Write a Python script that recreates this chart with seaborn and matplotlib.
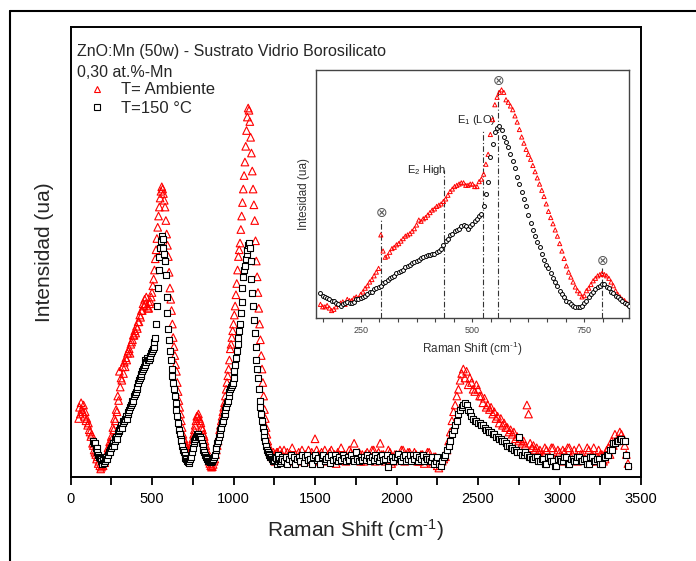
import numpy as np
import matplotlib
matplotlib.use("Agg")
import matplotlib.pyplot as plt
from matplotlib.lines import Line2D
from matplotlib.ticker import MultipleLocator, AutoMinorLocator, NullLocator
import seaborn as sns

# ------------------------
# datos (intensidad en unidades arbitrarias 0-100)
# rejilla del espectrometro: paso 5 cm-1 hasta 1300, paso 10 cm-1 despues
# ------------------------
shift_amb = list(range(50, 1300, 5)) + list(range(1300, 3430, 10))
int_amb = [
    13, 15.5, 14, 16.5, 15, 14.5, 16, 13.5, 14.5, 12.5,
    13, 11.5, 12, 10.5, 10, 9, 9.5, 7.5, 7, 6,
    5.5, 5, 4, 4.5, 3, 3.5, 2.5, 1.8, 2.2, 2.8,
    2.5, 3.8, 3.2, 4.5, 5.2, 5, 6.5, 6, 7.8, 7.2,
    9, 8.5, 11, 10.5, 13, 12.5, 15, 14.5, 18, 17,
    23.5, 20, 22, 21.5, 24.5, 23, 25.5, 24.5, 26.5, 26,
    27.5, 28, 28.5, 27.5, 29.5, 30, 30.5, 31.5, 31.5, 32.5,
    32, 33.5, 33, 34.5, 34.5, 36, 35.5, 37, 37, 38.5,
    38, 39.5, 38.5, 40, 38, 37.5, 37.5, 38.5, 39, 40,
    41, 42.5, 44, 46, 48.5, 50.5, 53, 55.5, 58, 60,
    62, 63.5, 64.5, 64, 63, 61.5, 60, 57, 54, 51.5,
    49, 45.5, 42, 39.5, 37, 34, 31, 29, 27, 25,
    23.5, 21, 19, 17, 15.5, 14, 12.5, 11, 9.5, 8.5,
    8, 7, 6.5, 6, 6, 5.5, 5.5, 6, 7, 7.5,
    8.5, 9.5, 10.5, 11.5, 12.5, 13.5, 13.5, 14, 13, 12.5,
    12, 11, 10.5, 9.5, 9, 8, 7, 6, 5, 4.5,
    3.5, 3, 2.5, 2.2, 2.3, 2.8, 3.5, 4, 5, 6,
    7, 8, 9, 10.5, 11.5, 12.5, 13.5, 14.5, 15.5, 16.5,
    18, 19.5, 21, 22.5, 24, 26, 28.5, 29.5, 31, 32.5,
    34, 36, 38, 40.5, 43, 46, 49, 50.5, 52, 55,
    58, 61, 64, 67, 70, 73.5, 77, 80, 82, 81.5,
    79, 75.5, 72, 68, 64, 60.5, 57, 52.5, 48, 44.5,
    41, 37.5, 34, 30.5, 27, 24, 21, 18, 15, 13,
    11, 9.5, 8, 7, 6, 5.5, 5, 4.5, 4.5, 5.5,
    5, 3.5, 4, 5.5, 5.5, 3.5, 4, 6, 5, 4,
    # 1300 - 3420
    4.5, 6, 4, 5.5, 3.5, 5, 6.5, 4, 5, 3.5,
    5.5, 4.5, 6, 4, 5, 3.5, 6, 4.5, 5.5, 4,
    8.5, 6, 5, 3.5, 5.5, 4, 6, 4.5, 3.5, 5.5,
    6, 4, 5, 3, 5.5, 4.5, 6.5, 4, 5, 3.5,
    4.5, 6, 5.5, 4, 7.5, 5, 4, 5.5, 3.5, 5,
    3.5, 5, 5.5, 4, 4.5, 6, 6, 3.5, 4, 5.5,
    7.5, 5, 5, 3.5, 4, 6, 5.5, 3, 3.5, 5,
    5, 4, 4.5, 6, 6, 3.5, 4, 5.5, 5.5, 4,
    4, 5.5, 5, 3.5, 3.5, 5, 5, 3, 4, 5.5,
    5.5, 3.5, 3, 4.5, 4.5, 2.5, 2, 3.5, 3.5, 4,
    4.5, 6, 8, 10, 12.5, 14.5, 16, 18, 19.5, 21.5,
    23, 24, 22, 23.5, 20.5, 22, 21, 19.5, 19, 20.5,
    19.5, 18, 18, 16.5, 17.5, 15.5, 16, 15, 15.5, 14,
    14.5, 13, 13.5, 12, 13, 11.5, 12, 11, 11, 10,
    10.5, 9.5, 10, 8.5, 9, 8, 8.5, 7.5, 8, 7,
    16, 14, 7.5, 6.5, 7, 6, 6.5, 5.5, 6, 4.5,
    5, 6.5, 6, 4, 4.5, 6.5, 6.5, 4, 4, 6,
    5.5, 3.5, 6, 5.5, 4, 6.5, 6.5, 4.5, 5, 6,
    4.5, 3.5, 6.5, 5, 5, 4, 4, 6.5, 6, 3.5,
    5, 6.5, 3.5, 4.5, 6, 5, 5, 3.5, 4, 6,
    6.5, 5, 8, 7, 9.5, 8, 8.5, 10, 9.5, 8.5,
    7, 5, 3]

shift_150 = list(range(140, 1300, 5)) + list(range(1300, 3430, 10))
int_150 = [
    8, 7.5, 7.5, 6.5, 6.5, 5.5, 5, 4.5, 4.2, 4, 3.5, 3,
    3.8, 3.2, 3.5, 4, 4.5, 4, 5, 5.5, 6, 5.5,
    6.5, 7, 7.5, 7, 8, 8.5, 9, 8.5, 9.8, 10.2,
    10.5, 11, 11.5, 11, 12, 12.5, 12.5, 13, 13.5, 13,
    14, 14.5, 15, 15.5, 16, 16.5, 17, 17, 18, 18.5,
    19, 19.5, 20, 21, 21.5, 22, 22.5, 23, 23.5, 24,
    24.5, 25, 26, 25.5, 26.5, 26, 26, 26.5, 27, 27.5,
    28, 28.5, 29, 30, 31, 34, 38, 42, 46, 49,
    51, 52.5, 53.5, 53, 51, 49.5, 48, 45, 40, 36.5,
    33, 30.5, 28, 26, 24, 22.5, 21, 19.5, 18, 16.5,
    15, 13.5, 12, 10.5, 9.5, 8.5, 8, 7, 6, 5.5,
    4.8, 4.2, 4, 3.6, 3.4, 3.2, 3.5, 4, 4.5, 5.5,
    6.5, 7.5, 8, 8.5, 9, 9.5, 9.5, 9.2, 9, 8.8,
    8.5, 7.5, 7, 6, 5.5, 5, 4.5, 4.2, 4, 3.6,
    3.5, 3.4, 3.3, 3.5, 3.8, 4, 4.5, 5, 6, 6.5,
    7.5, 8, 9, 9.5, 10.5, 11, 12, 12.5, 13.5, 14,
    15, 15.5, 16.5, 17, 18, 19, 19.5, 20, 20.5, 21,
    22, 23.5, 25, 26.5, 28, 29.5, 31, 32.5, 34, 36.5,
    39, 42, 44.5, 46, 47, 48.5, 49.5, 50.5, 51.5, 52,
    51, 48, 44, 41, 38, 35, 32, 29, 26, 24,
    22, 19.5, 17, 15.5, 14, 12.5, 11, 10, 9, 8,
    7, 6, 5.5, 5.2, 5, 4.5, 4.5, 4, 4, 3.5,
    3.8, 4.5, 4.2, 3, 3.5, 4.8, 4, 3.2, 3.6, 4.5,
    # 1300 - 3420
    4, 3.5, 4.5, 3, 4, 5, 3.5, 4.5, 3, 4,
    4.5, 3.5, 4.8, 3.2, 4.5, 5, 3.8, 4, 3, 4.5,
    5, 3.8, 4.2, 3, 4.5, 5, 3.5, 4, 4.5, 3.2,
    4.8, 3.8, 5, 4, 3.5, 4.5, 3.8, 5, 4.2, 3.5,
    4.5, 3.8, 5, 4, 3.5, 5.5, 4, 3.5, 4.5, 3.8,
    4.5, 3.8, 5, 4.2, 3.5, 4.5, 3.8, 5, 4.2, 3.5,
    4.5, 5, 3.8, 4, 5, 2.2, 4, 4.5, 3.5, 4.5,
    4.5, 5.2, 4, 3.5, 4.5, 5, 3.5, 4, 5, 3.5,
    5, 4, 4.8, 3.5, 4.5, 4, 5, 3.5, 4.5, 4,
    4, 3.5, 4.5, 3, 3.5, 4.5, 3, 2.5, 3.5, 4.5,
    5, 6, 7, 8, 9.5, 10.5, 11.5, 12.5, 14, 15,
    15.5, 16, 16.5, 16, 15, 14.5, 13.5, 13, 12.5, 12.5,
    12, 12, 11.5, 11.5, 11, 10.5, 10.5, 10, 10, 9.5,
    9.5, 9, 9, 8.5, 8.5, 8, 8, 7.5, 7, 7,
    6.5, 6.5, 6, 6, 5.5, 9, 5.5, 5, 5, 5.5,
    5, 4.5, 4.5, 4, 4, 4.5, 4.5, 3.5, 3.5, 4,
    4, 3, 3, 4.5, 4.5, 3.5, 3.5, 2.5, 2.5, 4,
    4, 3.5, 3.5, 4.5, 4.5, 3, 3, 4, 4, 3.5,
    3.5, 4.5, 4.5, 3.5, 3.5, 4, 4, 3, 3, 4.5,
    4.5, 3.5, 3.5, 4, 4, 3, 3, 4.5, 4.5, 5,
    5, 6, 6, 7.5, 7.5, 8, 8, 8.5, 8.5, 8,
    8, 5, 2.5]

# inset: zona 160-850 cm-1
ins_shift = list(range(160, 855, 5))
ins_amb = [
    5.5, 4.5, 4.5, 5, 4, 3, 3.5, 4.5,
    5.5, 6, 6.5, 5.5, 7.5, 7, 7, 8, 8.5, 8,
    9.5, 10.5, 12, 13, 14.5, 15.5, 17, 18.5, 20, 33.5,
    27, 24.5, 25, 26.5, 28, 28.5, 29.5, 30, 31, 32,
    33, 33.5, 34, 35, 36, 37.5, 39.5, 39, 40, 40.5,
    41.5, 42.5, 43.5, 44, 45, 45.5, 46, 47, 48, 49.5,
    51, 52, 53, 53.5, 54, 54.5, 54.5, 53.5, 53.5, 54,
    54, 53, 53, 55, 56, 58, 62, 66, 74, 80,
    86, 89, 91, 92, 91, 88, 87, 85.5, 84, 81.5,
    79, 76, 73, 70.5, 68, 66, 64, 61.5, 59, 56.5,
    54, 51.5, 49, 46, 43, 40.5, 38, 35.5, 33, 30,
    27, 24, 21, 18.5, 16.5, 14.5, 12.5, 11, 10, 8.5,
    9, 11, 12, 13.5, 15, 16, 17, 17.5, 18, 17.5,
    17, 16, 14.5, 13, 11, 9.5, 8.5, 7.5, 7, 6,
    5.5]
ins_150 = [
    10, 9, 8.5, 8, 7.5, 7, 7, 6,
    5.5, 5, 5.5, 6, 6.5, 6, 6, 6.5, 7.5, 7.5,
    8, 8.5, 9, 9.5, 10.5, 10.5, 11.5, 12, 12.5, 13,
    14, 14.5, 15.5, 16, 16.5, 17, 18, 18.5, 19, 19.5,
    20.5, 21, 21.5, 22, 22.5, 23, 23.5, 24, 24.5, 25,
    25.5, 25.5, 26, 26, 26.5, 27, 28, 29.5, 31, 32,
    33.5, 34, 35, 35.5, 36, 37, 37.5, 37, 36, 37,
    38, 39, 40, 41, 42, 45, 50, 55, 65, 70,
    75, 76.5, 77.5, 76, 73, 71, 69, 66, 63.5, 60.5,
    57, 54, 51, 48, 45, 41.5, 38.5, 35.5, 33, 30.5,
    28.5, 26, 23.5, 21.5, 20, 18, 16, 14.5, 13, 11,
    9.5, 8.5, 7, 6.5, 5.5, 5, 4.5, 4.5, 4.5, 5,
    6, 7, 8.5, 9.5, 10.5, 11.5, 12.5, 13, 13.5, 13.5,
    12.5, 12, 10.5, 10, 9, 8.5, 7.5, 7, 6, 5.5,
    5]

# modos Raman marcados en el inset
mode_pos = [296, 437, 523, 558, 790]
mode_top = [39.5, 59.7, 75.8, 92.6, 20.1]
otimes_pos = [296, 558, 790]
otimes_y = [42.5, 95.5, 23]

# ------------------------
# estilo
# ------------------------
sns.set_style("ticks")
plt.rcParams["font.family"] = ["Liberation Sans", "DejaVu Sans"]
plt.rcParams["mathtext.default"] = "regular"

fig = plt.figure(figsize=(6.96, 5.61), dpi=100)
ax = fig.add_axes([0.1013, 0.1497, 0.8197, 0.8021])

# ------------------------
# grafico principal
# ------------------------
sns.scatterplot(x=shift_amb, y=int_amb, marker="^", s=30, facecolor="none",
                edgecolor="#ff0000", linewidth=0.8, ax=ax, zorder=3)
sns.scatterplot(x=shift_150, y=int_150, marker="s", s=22, facecolor="white",
                edgecolor="black", linewidth=0.8, ax=ax, zorder=4)

ax.set_xlim(0, 3500)
ax.set_ylim(0, 100)
ax.xaxis.set_major_locator(MultipleLocator(500))
ax.xaxis.set_minor_locator(AutoMinorLocator(2))
ax.yaxis.set_major_locator(NullLocator())
ax.tick_params(axis="x", which="both", direction="out", length=6, width=1.3,
               labelsize=10.5, colors="black", pad=5)
for sp in ax.spines.values():
    sp.set_linewidth(1.4)
    sp.set_color("black")

ax.set_xlabel("Raman Shift (cm$^{\u20101}$)", fontsize=15, labelpad=8)
ax.set_ylabel("Intensidad (ua)", fontsize=15, labelpad=12)

ax.text(0.011, 0.9356, "ZnO:Mn (50w) - Sustrato Vidrio Borosilicato",
        transform=ax.transAxes, fontsize=11.5, va="baseline")
ax.text(0.011, 0.8896, "0,30 at.%-Mn", transform=ax.transAxes, fontsize=11.5,
        va="baseline")

handles = [
    Line2D([], [], ls="none", marker="^", ms=5, mfc="none", mec="#ff0000", mew=0.8),
    Line2D([], [], ls="none", marker="s", ms=4.5, mfc="white", mec="black", mew=0.8),
]
ax.legend(handles, ["T= Ambiente", "T=150 °C"], loc="upper left",
          bbox_to_anchor=(0.032, 0.877), frameon=False, fontsize=12,
          borderaxespad=0, borderpad=0, handlelength=1.0, handletextpad=0.95,
          labelspacing=0.22)

# ------------------------
# inset
# ------------------------
axi = fig.add_axes([0.454, 0.4332, 0.4497, 0.442])
axi.vlines(mode_pos, 0, mode_top, colors="#333333", linestyles=(0, (5, 2, 1, 2)),
           linewidth=0.8, zorder=1)
axi.text(353, 58.4, "E$_2$ High", fontsize=8, color="#222222", va="baseline", zorder=1)
axi.text(465, 78.5, "E$_1$ (LO)", fontsize=8, color="#222222", va="baseline", zorder=1)
for xo, yo in zip(otimes_pos, otimes_y):
    axi.text(xo, yo, "\u2297", fontsize=10, color="#555555", ha="center",
             va="center", family=["DejaVu Sans"])

sns.scatterplot(x=ins_shift, y=ins_amb, marker="^", s=9, facecolor="none",
                edgecolor="#ff0000", linewidth=0.7, ax=axi, zorder=3)
sns.scatterplot(x=ins_shift, y=ins_150, marker="o", s=8, facecolor="white",
                edgecolor="black", linewidth=0.7, ax=axi, zorder=4)

axi.set_xlim(150, 850)
axi.set_ylim(0, 100)
axi.xaxis.set_major_locator(MultipleLocator(250))
axi.xaxis.set_minor_locator(AutoMinorLocator(6))
axi.yaxis.set_major_locator(NullLocator())
axi.tick_params(axis="x", which="both", direction="out", length=3, width=0.8,
                labelsize=6.5, colors="#444444", pad=3)
for sp in axi.spines.values():
    sp.set_linewidth(1.0)
    sp.set_color("#444444")
axi.set_xlabel("Raman Shift (cm$^{\u20101}$)", fontsize=8.5, color="#333333", labelpad=3)
axi.set_ylabel("Intesidad (ua)", fontsize=8.5, color="#333333", labelpad=4)

# marco exterior
fig.add_artist(Line2D([0.0144, 1.0], [0.9804, 0.9804], color="black", lw=1.5,
                      transform=fig.transFigure))
fig.add_artist(Line2D([0.0144, 0.0144], [0.0, 0.9804], color="black", lw=1.5,
                      transform=fig.transFigure))

fig.savefig("out.png", dpi=100)
